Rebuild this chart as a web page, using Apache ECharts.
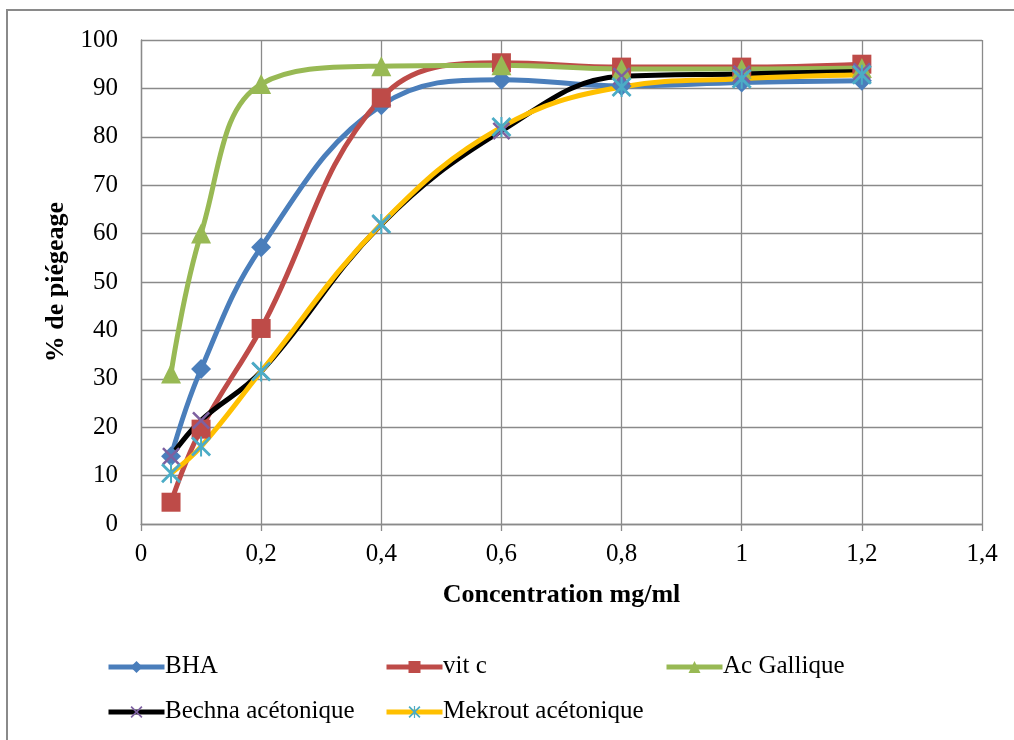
<!DOCTYPE html>
<html>
<head>
<meta charset="utf-8">
<script src="https://cdn.jsdelivr.net/npm/echarts@6/dist/echarts.min.js"></script>
<style>
  html, body { margin: 0; padding: 0; background: #fff; }
  #chart { width: 1014px; height: 740px; }
</style>
</head>
<body>
<div id="chart"></div>
<script>
// concentrations (mg/ml)
const concentrations = [0.05, 0.1, 0.2, 0.4, 0.6, 0.8, 1, 1.2];
// % de piégeage
const bha = [14, 32, 57.2, 86.5, 91.8, 90.5, 91.2, 91.6];
const vitC = [4.5, 19.6, 40.4, 88, 95.3, 94.4, 94.4, 95];
const acGallique = [31.1, 60, 90.9, 94.6, 94.8, 94, 94, 94.2];
const bechna = [14, 21.4, 31.5, 61.9, 81.2, 92.5, 93, 93.5];
const mekrout = [10.5, 16, 31.5, 62, 82, 90.3, 92, 92.8];
const seriesNames = ['BHA', 'vit c', 'Ac Gallique', 'Bechna acétonique', 'Mekrout acétonique'];

const font = "Liberation Serif";

// legend slots (icon left, row centre)
const legendSlots = [[106, 667], [384, 667], [664, 667], [106, 712], [384, 712]];

function pairs(ys) {
  return concentrations.map((x, i) => [x, ys[i]]);
}

// marker shapes
const crossPath = 'path://M0,1 L1,0 L10,9 L9,10 Z M9,0 L10,1 L1,10 L0,9 Z';
const starPath = 'path://M0,1 L1,0 L10,9 L9,10 Z M9,0 L10,1 L1,10 L0,9 Z M4.5,0 L5.5,0 L5.5,10 L4.5,10 Z';

function line(name, ys, lineColor, markColor, symbol, size) {
  return {
    name: name,
    type: 'line',
    smooth: 0.4,
    data: pairs(ys),
    symbol: symbol,
    symbolSize: size,
    lineStyle: { color: lineColor, width: 5 },
    itemStyle: { color: markColor },
    emphasis: { disabled: true }
  };
}

// legend icons only; the names are put next to them with title components
const legends = seriesNames.map((name, i) => ({
  data: [name],
  left: legendSlots[i][0],
  top: legendSlots[i][1] - 7.5,
  padding: 0,
  itemWidth: 56,
  itemHeight: 15,
  itemGap: 0,
  lineStyle: { width: 5 },
  formatter: () => '',
  textStyle: { fontSize: 1 }
}));

const legendLabels = seriesNames.map((name, i) => ({
  text: name,
  left: legendSlots[i][0] + 59,
  top: legendSlots[i][1] - 15,
  padding: 0,
  textStyle: { fontFamily: font, fontSize: 25, fontWeight: 'normal', color: '#000', lineHeight: 28 }
}));

const chart = echarts.init(document.getElementById('chart'));
chart.setOption({
  animation: false,
  backgroundColor: '#fff',
  textStyle: { fontFamily: font },
  title: legendLabels,
  graphic: [{
    type: 'rect',
    silent: true,
    shape: { x: 7, y: 10, width: 1100, height: 800 },
    style: { fill: 'none', stroke: '#8a8a8a', lineWidth: 2 }
  }],
  grid: { left: 141, right: 32, top: 40, bottom: 216 },
  legend: legends,
  xAxis: {
    type: 'value',
    min: 0,
    max: 1.4,
    interval: 0.2,
    name: 'Concentration mg/ml',
    nameLocation: 'middle',
    nameGap: 58,
    nameTextStyle: { fontFamily: font, fontSize: 26, fontWeight: 'bold', color: '#000' },
    axisLine: { lineStyle: { color: '#8a8a8a', width: 1.3 } },
    axisTick: { show: true, length: 7, lineStyle: { color: '#8a8a8a', width: 1.3 } },
    axisLabel: {
      fontFamily: font, fontSize: 25, color: '#000', margin: 18,
      formatter: v => String(+v.toFixed(1)).replace('.', ',')
    },
    splitLine: { show: true, lineStyle: { color: '#8a8a8a', width: 1.3 } }
  },
  yAxis: {
    type: 'value',
    min: 0,
    max: 100,
    interval: 10,
    name: '% de piégeage',
    nameLocation: 'middle',
    nameGap: 68,
    nameTextStyle: { fontFamily: font, fontSize: 26, fontWeight: 'bold', color: '#000' },
    axisLine: { show: true, lineStyle: { color: '#8a8a8a', width: 1.3 } },
    axisTick: { show: false },
    axisLabel: { fontFamily: font, fontSize: 25, color: '#000', margin: 23 },
    splitLine: { show: true, lineStyle: { color: '#8a8a8a', width: 1.3 } }
  },
  series: [
    line(seriesNames[0], bha, '#4A7EBB', '#4A7EBB', 'diamond', 20),
    line(seriesNames[1], vitC, '#BE4B48', '#BE4B48', 'rect', 19),
    line(seriesNames[2], acGallique, '#98B954', '#98B954', 'triangle', 20),
    line(seriesNames[3], bechna, '#000000', '#7D60A0', crossPath, 18),
    line(seriesNames[4], mekrout, '#FFC000', '#4BACC6', starPath, 20)
  ]
});
</script>
</body>
</html>
